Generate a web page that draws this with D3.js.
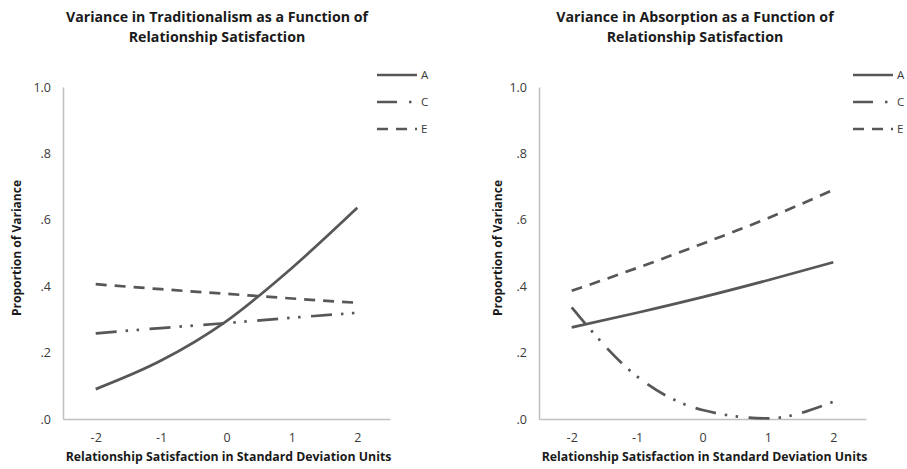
<!DOCTYPE html>
<html>
<head>
<meta charset="utf-8">
<script src="https://cdn.jsdelivr.net/npm/d3@7"></script>
<style>
body{margin:0;background:#fff;}
text{font-family:"Open Sans",Lato,sans-serif;}
</style>
</head>
<body>
<svg id="c" width="907" height="469"></svg>
<script>
// ---- data ----
const xCategories = [-2, -1, 0, 1, 2];
const xTickLabels = ["-2", "-1", "0", "1", "2"];
const yTicks = [0, 0.2, 0.4, 0.6, 0.8, 1.0];
const yTickLabels = [".0", ".2", ".4", ".6", ".8", "1.0"];
const seriesNames = ["A", "C", "E"];

const tradA = [0.090, 0.176, 0.295, 0.455, 0.636];
const tradC = [0.258, 0.274, 0.289, 0.305, 0.320];
const tradE = [0.406, 0.391, 0.377, 0.363, 0.350];

const absA = [0.276, 0.320, 0.367, 0.418, 0.472];
const absC = [0.336, 0.128, 0.027, 0.002, 0.052];
const absE = [0.386, 0.455, 0.528, 0.605, 0.690];

const titlesLeft = ["Variance in Traditionalism as a Function of", "Relationship Satisfaction"];
const titlesRight = ["Variance in Absorption as a Function of", "Relationship Satisfaction"];
const xAxisTitle = "Relationship Satisfaction in Standard Deviation Units";
const yAxisTitle = "Proportion of Variance";

// ---- drawing ----
const svg = d3.select("#c");
const lineColor = "#575757";
const dashes = {A: null, C: "21 9 2.5 8.5 2.5 10.5", E: "11 8"};
const FONT = "'Open Sans', Lato, sans-serif";

function panel(opts) {
  const {x0, x1, y0, y1, series, titles, titleX, legendX, ylabX} = opts;
  const g = svg.append("g");
  const x = d3.scalePoint().domain(xCategories).range([x0, x1]).padding(0.5);
  const y = d3.scaleLinear().domain([0, 1]).range([y1, y0]);

  // axes
  const ya = g.append("g").attr("transform", `translate(${x0},0)`)
    .call(d3.axisLeft(y).tickValues(yTicks).tickSize(0).tickPadding(12)
      .tickFormat((d, i) => yTickLabels[i]));
  const xa = g.append("g").attr("transform", `translate(0,${y1})`)
    .call(d3.axisBottom(x).tickSize(0).tickPadding(14)
      .tickFormat((d, i) => xTickLabels[i]));
  [ya, xa].forEach(a => {
    a.select(".domain").attr("stroke", "#c0c0c0").attr("stroke-width", 1.5);
    a.selectAll("text").attr("fill", "#3a3a3a").style("font-size", "12.5px")
      .style("font-family", FONT);
  });

  // lines
  const line = d3.line().x((d, i) => x(xCategories[i])).y(d => y(d)).curve(d3.curveMonotoneX);
  seriesNames.forEach((n, k) => {
    g.append("path").datum(series[k]).attr("d", line)
      .attr("fill", "none").attr("stroke", lineColor).attr("stroke-width", 2.7)
      .attr("stroke-dasharray", dashes[n]);
  });

  // titles
  titles.forEach((t, i) => {
    g.append("text").attr("x", titleX).attr("y", 22 + i * 20).attr("text-anchor", "middle")
      .attr("font-weight", "bold").attr("font-size", 14.2).attr("fill", "#1a1a1a").text(t);
  });
  g.append("text").attr("x", (x0 + x1) / 2 + 2).attr("y", 461).attr("text-anchor", "middle")
    .attr("font-weight", "bold").attr("font-size", 12.3).attr("fill", "#1a1a1a").text(xAxisTitle);
  g.append("text").attr("transform", `translate(${ylabX},248) rotate(-90)`).attr("text-anchor", "middle")
    .attr("font-weight", "bold").attr("font-size", 12).attr("fill", "#1a1a1a").text(yAxisTitle);

  // legend
  seriesNames.forEach((n, k) => {
    const ly = 75 + k * 27;
    g.append("line").attr("x1", legendX).attr("x2", legendX + 40).attr("y1", ly).attr("y2", ly)
      .attr("stroke", lineColor).attr("stroke-width", 2.7).attr("stroke-dasharray", n === "C" ? "20 12 2.5 20" : dashes[n]);
    g.append("text").attr("x", legendX + 44).attr("y", ly + 4).attr("font-size", 11.5)
      .attr("fill", "#3a3a3a").text(n);
  });
}

panel({x0: 63, x1: 390, y0: 87, y1: 419, series: [tradA, tradC, tradE],
  titles: titlesLeft, titleX: 217, legendX: 377, ylabX: 21});
panel({x0: 539, x1: 866, y0: 87, y1: 419, series: [absA, absC, absE],
  titles: titlesRight, titleX: 695, legendX: 853, ylabX: 502});
</script>
</body>
</html>
